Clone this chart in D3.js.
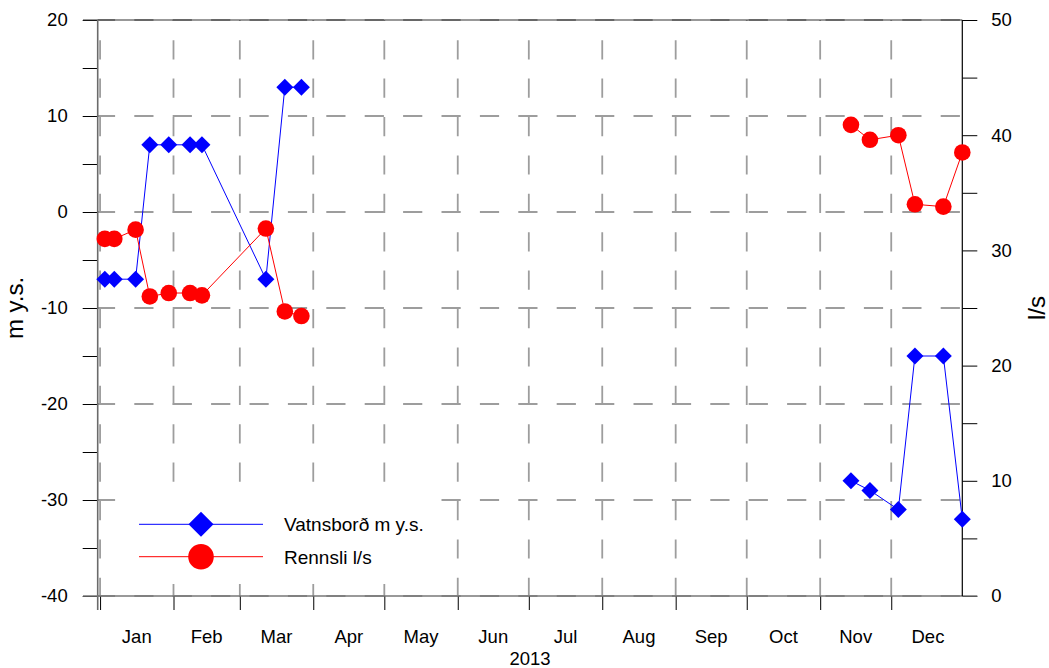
<!DOCTYPE html>
<html>
<head>
<meta charset="utf-8">
<script src="https://cdn.jsdelivr.net/npm/d3@7"></script>
<style>
  html, body { margin: 0; padding: 0; background: #fff; }
  svg { display: block; font-family: "Liberation Sans", Arial, sans-serif; }
</style>
</head>
<body>
<svg id="chart" width="1049" height="668"></svg>
<script>
// ---- data ----
const dates = ["2013-01-03","2013-01-07","2013-01-16","2013-01-22","2013-01-30","2013-02-08","2013-02-13",
               "2013-03-12","2013-03-20","2013-03-27",
               "2013-11-14","2013-11-22","2013-12-04","2013-12-11","2013-12-23","2013-12-31"];
const vatnsbord = [-7, -7, -7, 7, 7, 7, 7, -7, 13, 13, -28, -29, -31, -15, -15, -32];
const rennsli   = [31, 31, 31.8, 26, 26.3, 26.3, 26.1, 31.9, 24.7, 24.3, 40.9, 39.6, 40, 34, 33.8, 38.5];
const monthLabels = ["Jan","Feb","Mar","Apr","May","Jun","Jul","Aug","Sep","Oct","Nov","Dec"];
const leftTicks = [-40, -30, -20, -10, 0, 10, 20];
const rightTicks = [0, 10, 20, 30, 40, 50];
const seriesNames = ["Vatnsborð m y.s.", "Rennsli l/s"];
const yearLabel = "2013";
const leftTitle = "m y.s.";
const rightTitle = "l/s";

// ---- layout ----
const L = 97.7, R = 962.3, T = 20, B = 596;
const parse = d3.timeParse("%Y-%m-%d");
const x = d3.scaleTime().domain([new Date(2012, 11, 31), new Date(2013, 11, 31)]).range([L, R]);
const yL = d3.scaleLinear().domain([-40, 20]).range([B, T]);
const yR = d3.scaleLinear().domain([0, 50]).range([B, T]);

const svg = d3.select("#chart");
const gridColor = "#9d9d9d";
const monthStarts = d3.timeMonth.range(new Date(2013, 0, 1), new Date(2013, 11, 2));

// ---- grid ----
const grid = svg.append("g");
grid.selectAll("line.v").data(monthStarts).join("line")
  .attr("x1", d => x(d)).attr("x2", d => x(d))
  .attr("y1", B + 1).attr("y2", T)
  .attr("stroke", gridColor).attr("stroke-width", 1.8)
  .attr("stroke-dasharray", "19.2,19.2");
grid.selectAll("line.h").data(leftTicks).join("line")
  .attr("x1", L).attr("x2", R)
  .attr("y1", d => yL(d)).attr("y2", d => yL(d))
  .attr("stroke", gridColor).attr("stroke-width", 1.8)
  .attr("stroke-dasharray", "19.2,19.2")
  .attr("stroke-dashoffset", 1.8);

// ---- legend background (covers grid) ----
svg.append("rect").attr("x", 116).attr("y", 482).attr("width", 324).attr("height", 102).attr("fill", "#fff");

// ---- axes ----
const axL = svg.append("g").attr("transform", `translate(${L},0)`)
  .call(d3.axisLeft(yL).tickValues(d3.range(-40, 21, 5)).tickSize(15).tickPadding(15)
        .tickFormat(d => d % 10 === 0 ? d : ""));
const axR = svg.append("g").attr("transform", `translate(${R},0)`)
  .call(d3.axisRight(yR).tickValues(d3.range(0, 51, 5)).tickSize(15).tickPadding(14)
        .tickFormat(d => d % 10 === 0 ? d : ""));
const axB = svg.append("g").attr("transform", `translate(0,${B})`)
  .call(d3.axisBottom(x).tickValues(monthStarts).tickSize(14).tickFormat(""));
[axL, axR, axB].forEach(g => {
  g.select(".domain").remove();
  g.selectAll(".tick line").attr("stroke", "#000").attr("stroke-width", 1);
  g.selectAll(".tick text").attr("font-size", 18.5).attr("fill", "#000")
    .attr("font-family", "Liberation Sans, Arial, sans-serif");
});
// frame lines
svg.append("line").attr("x1", 83).attr("x2", R).attr("y1", T).attr("y2", T).attr("stroke", "#333").attr("stroke-width", 1.2);
svg.append("line").attr("x1", L).attr("x2", L).attr("y1", T).attr("y2", B + 14).attr("stroke", "#6a6a6a").attr("stroke-width", 1.6);
svg.append("line").attr("x1", 83).attr("x2", R + 15).attr("y1", B).attr("y2", B).attr("stroke", "#777").attr("stroke-width", 1.6);
svg.append("line").attr("x1", R).attr("x2", R).attr("y1", T).attr("y2", B).attr("stroke", "#000").attr("stroke-width", 1.2);

// month labels centred in each month
svg.append("g").selectAll("text").data(monthStarts).join("text")
  .attr("x", d => (x(d) + x(d3.timeMonth.offset(d, 1))) / 2)
  .attr("y", 643)
  .attr("text-anchor", "middle").attr("font-size", 18.5)
  .text((d, i) => monthLabels[i]);
svg.append("text").attr("x", (L + R) / 2).attr("y", 665).attr("text-anchor", "middle")
  .attr("font-size", 18.5).text(yearLabel);

// axis titles
svg.append("text").attr("transform", `translate(23,${(T + B) / 2}) rotate(-90)`)
  .attr("text-anchor", "middle").attr("font-size", 24).text(leftTitle);
svg.append("text").attr("transform", `translate(1045,${(T + B) / 2}) rotate(-90)`)
  .attr("text-anchor", "middle").attr("font-size", 24).text(rightTitle);

// ---- data ----
const blueData = dates.map((d, i) => ({ t: parse(d), v: vatnsbord[i] }));
const redData = dates.map((d, i) => ({ t: parse(d), v: rennsli[i] }));
// split into segments at the long gap (Apr–Oct)
function segs(data) {
  const out = [[]];
  data.forEach((d, i) => {
    if (i > 0 && (d.t - data[i - 1].t) > 100 * 864e5) out.push([]);
    out[out.length - 1].push(d);
  });
  return out;
}
const lineB = d3.line().x(d => x(d.t)).y(d => yL(d.v));
const lineR = d3.line().x(d => x(d.t)).y(d => yR(d.v));
const diamond = d3.symbol().type(d3.symbolSquare).size(144);

svg.append("g").selectAll("path").data(segs(blueData)).join("path")
  .attr("d", lineB).attr("fill", "none").attr("stroke", "#0000ff").attr("stroke-width", 1);
svg.append("g").selectAll("path").data(blueData).join("path")
  .attr("d", diamond).attr("fill", "#0000ff")
  .attr("transform", d => `translate(${x(d.t)},${yL(d.v)}) rotate(45)`);

svg.append("g").selectAll("path").data(segs(redData)).join("path")
  .attr("d", lineR).attr("fill", "none").attr("stroke", "#ff0000").attr("stroke-width", 1);
svg.append("g").selectAll("circle").data(redData).join("circle")
  .attr("cx", d => x(d.t)).attr("cy", d => yR(d.v)).attr("r", 8.3).attr("fill", "#ff0000");

// ---- legend ----
const lg = svg.append("g");
const legendItems = [
  { name: seriesNames[0], color: "#0000ff", y: 524.3, type: "diamond" },
  { name: seriesNames[1], color: "#ff0000", y: 556.7, type: "circle" }
];
legendItems.forEach(it => {
  lg.append("line").attr("x1", 139).attr("x2", 263).attr("y1", it.y).attr("y2", it.y)
    .attr("stroke", it.color).attr("stroke-width", 1);
  if (it.type === "diamond") {
    lg.append("path").attr("d", d3.symbol().type(d3.symbolSquare).size(312)())
      .attr("fill", it.color).attr("transform", `translate(201,${it.y}) rotate(45)`);
  } else {
    lg.append("circle").attr("cx", 201).attr("cy", it.y).attr("r", 12.8).attr("fill", it.color);
  }
  lg.append("text").attr("x", 284).attr("y", it.y + 6.8).attr("font-size", 19).text(it.name);
});
</script>
</body>
</html>
